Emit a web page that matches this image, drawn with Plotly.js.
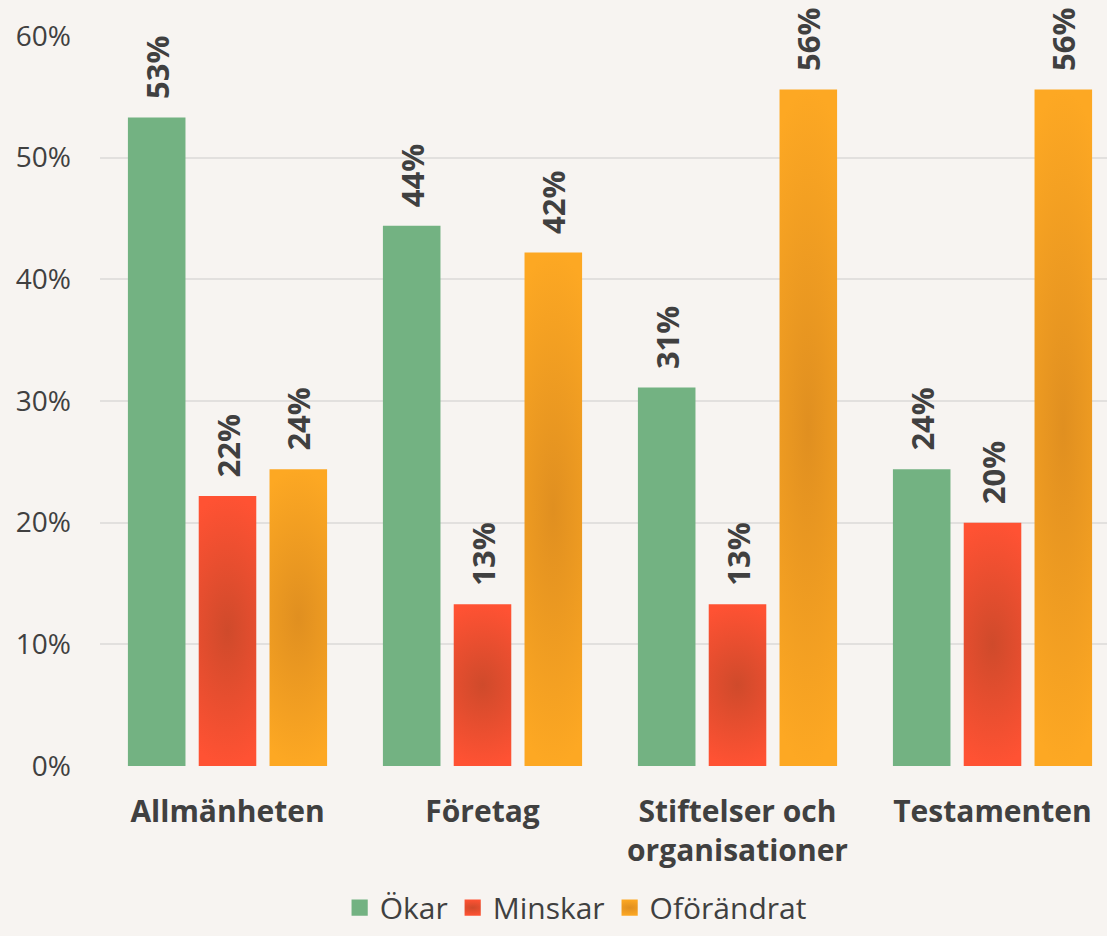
<!DOCTYPE html>
<html>
<head>
<meta charset="utf-8">
<script src="https://cdn.plot.ly/plotly-3.0.1.min.js"></script>
<style>
html,body{margin:0;padding:0;background:#F7F4F1;}
#chart{width:1107px;height:936px;}
</style>
</head>
<body>
<div id="chart"></div>
<script>
const categories = ['Allmänheten', 'Företag', 'Stiftelser och<br>organisationer', 'Testamenten'];
const seriesNames = ['Ökar', 'Minskar', 'Oförändrat'];
const okar = [53.3, 44.4, 31.1, 24.4];
const minskar = [22.2, 13.3, 13.3, 20.0];
const oforandrat = [24.4, 42.2, 55.6, 55.6];
const yTickVals = [0, 10, 20, 30, 40, 50, 60];
const yTickText = ['0%', '10%', '20%', '30%', '40%', '50%', '60%'];

const colors = ['#73B282', '#F04E30', '#F29E22'];
const textColor = '#404040';
const font = 'Open Sans, sans-serif';

function bar(name, vals, color) {
  return {
    type: 'bar', name: name, x: categories, y: vals,
    marker: {color: color},
    texttemplate: '\u2002%{y:.0f}%',
    textposition: 'outside',
    textangle: -90,
    constraintext: 'none',
    cliponaxis: false,
    textfont: {family: font, size: 31, color: textColor, weight: 'bold'},
    hoverinfo: 'none'
  };
}

const data = [
  bar(seriesNames[0], okar, colors[0]),
  bar(seriesNames[1], minskar, colors[1]),
  bar(seriesNames[2], oforandrat, colors[2])
];

const layout = {
  width: 1107, height: 936,
  paper_bgcolor: '#F7F4F1', plot_bgcolor: '#F7F4F1',
  margin: {l: 100, r: 0, t: 36, b: 170},
  barmode: 'group', bargap: 0.167, bargroupgap: 0.187,
  showlegend: true,
  legend: {
    orientation: 'h', xref: 'container', yref: 'container',
    x: 0.52, xanchor: 'center', y: 0.058, yanchor: 'top',
    font: {family: font, size: 30, color: textColor},
    itemwidth: 30, traceorder: 'normal'
  },
  xaxis: {
    range: [-0.5, 3.449], showgrid: false, zeroline: false, showline: false,
    ticks: '', ticklabelstandoff: 25,
    tickfont: {family: font, size: 30, color: textColor, weight: 'bold'}
  },
  yaxis: {
    range: [0, 60], tickvals: yTickVals, ticktext: yTickText,
    showgrid: true, gridcolor: '#E2E0DE', gridwidth: 2,
    zeroline: false, showline: false, ticks: '', ticklabelstandoff: 28,
    tickfont: {family: font, size: 28, color: textColor}
  }
};

Plotly.newPlot('chart', data, layout, {displayModeBar: false, staticPlot: true}).then(function (gd) {
  const svgNS = 'http://www.w3.org/2000/svg';
  const svg = gd.querySelector('svg.main-svg');
  let defs = svg.querySelector('defs');
  if (!defs) { defs = document.createElementNS(svgNS, 'defs'); svg.insertBefore(defs, svg.firstChild); }
  function addGrad(id, inner, outer) {
    const g = document.createElementNS(svgNS, 'radialGradient');
    g.setAttribute('id', id);
    g.setAttribute('cx', '0.5'); g.setAttribute('cy', '0.5'); g.setAttribute('r', '0.5');
    g.setAttribute('gradientTransform', 'translate(0.5,0.5) scale(2.2,1) translate(-0.5,-0.5)');
    const s1 = document.createElementNS(svgNS, 'stop');
    s1.setAttribute('offset', '0'); s1.setAttribute('stop-color', inner);
    const s2 = document.createElementNS(svgNS, 'stop');
    s2.setAttribute('offset', '1'); s2.setAttribute('stop-color', outer);
    g.appendChild(s1); g.appendChild(s2); defs.appendChild(g);
  }
  addGrad('gradRed', '#CF4A2B', '#FF5233');
  addGrad('gradOrange', '#E08F20', '#FDA823');
  const traces = gd.querySelectorAll('.barlayer .trace');
  const ids = [null, 'gradRed', 'gradOrange'];
  traces.forEach(function (t, i) {
    if (!ids[i]) return;
    t.querySelectorAll('path').forEach(function (p) { p.style.fill = 'url(#' + ids[i] + ')'; });
  });
  const legendItems = gd.querySelectorAll('.legend .traces');
  legendItems.forEach(function (t, i) {
    t.querySelectorAll('.legendpoints path').forEach(function (p) {
      if (ids[i]) p.style.fill = 'url(#' + ids[i] + ')';
      p.setAttribute('transform', 'translate(20,0) scale(1.35)');
    });
  });
});
</script>
</body>
</html>
